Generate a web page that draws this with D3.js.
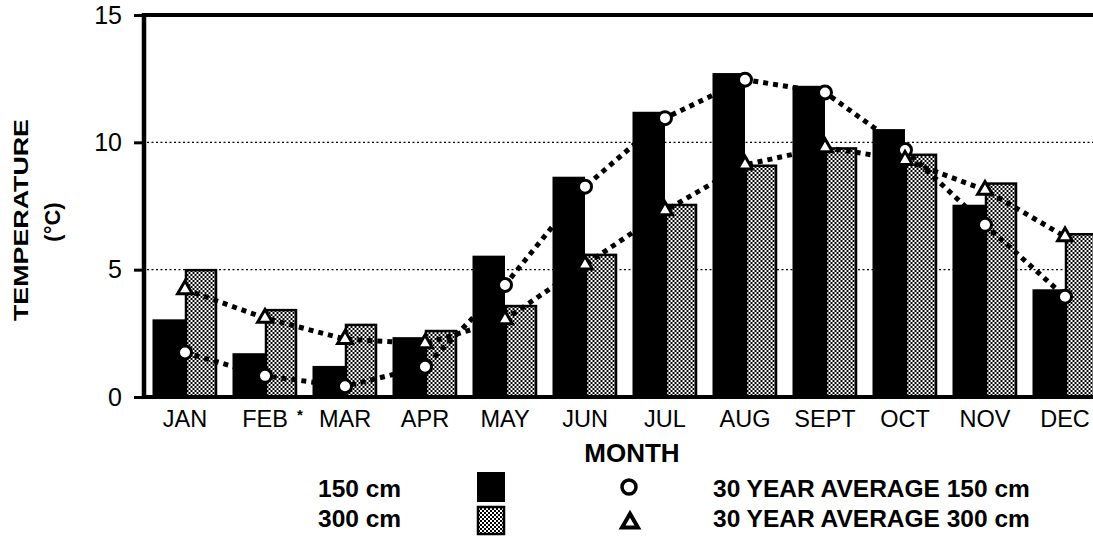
<!DOCTYPE html>
<html>
<head>
<meta charset="utf-8">
<script src="https://d3js.org/d3.v7.min.js"></script>
<style>
body { margin: 0; background: #fff; }
text { font-family: "Liberation Sans", Arial, sans-serif; fill: #000; }
</style>
</head>
<body>
<svg id="chart" width="1093" height="537"></svg>
<script>
// data
var months = ["JAN", "FEB", "MAR", "APR", "MAY", "JUN", "JUL", "AUG", "SEPT", "OCT", "NOV", "DEC"]
var temp150 = [3.05, 1.72, 1.22, 2.35, 5.55, 8.65, 11.2, 12.72, 12.22, 10.52, 7.55, 4.23]
var temp300 = [5.02, 3.45, 2.87, 2.63, 3.61, 5.62, 7.58, 9.12, 9.8, 9.55, 8.42, 6.43]
var avg150 = [1.75, 0.83, 0.42, 1.19, 4.4, 8.26, 10.95, 12.46, 11.96, 9.7, 6.76, 3.94]
var avg300 = [4.22, 3.1, 2.27, 2.1, 3.04, 5.19, 7.32, 9.12, 9.8, 9.3, 8.13, 6.3]
var yTicks = [0, 5, 10, 15]
var gridTicks = [5, 10]
var depths = ["150 cm", "300 cm"]
var avgLabels = ["30 YEAR AVERAGE 150 cm", "30 YEAR AVERAGE 300 cm"]

var svg = d3.select("#chart")
var width = 1093

// halftone fill for the 300 cm bars
var defs = svg.append("defs")
var pat = defs.append("pattern").attr("id", "dots")
    .attr("patternUnits", "userSpaceOnUse").attr("width", 4).attr("height", 4)
pat.append("rect").attr("width", 4).attr("height", 4).attr("fill", "#fff")
pat.append("rect").attr("x", 0).attr("y", 0).attr("width", 2).attr("height", 2).attr("fill", "#000")
pat.append("rect").attr("x", 2).attr("y", 2).attr("width", 2).attr("height", 2).attr("fill", "#000")

var x = d3.scaleBand().domain(months).range([145, 1105])
    .paddingInner(0.1875).paddingOuter(0.09375)
var x1 = d3.scaleBand().domain(depths).range([0, x.bandwidth()])
var y = d3.scaleLinear().domain([0, 15]).range([397, 15])

var rows = months.map(function(m, i) {
    return {m: m, v150: temp150[i], v300: temp300[i], a150: avg150[i], a300: avg300[i]}
})

// dotted grid lines
svg.selectAll(".grid").data(gridTicks).enter().append("line")
    .attr("x1", 147).attr("x2", width)
    .attr("y1", function(d) { return y(d) }).attr("y2", function(d) { return y(d) })
    .style("stroke", "#000").style("stroke-width", 1.2).style("stroke-dasharray", "2,2.5")

// bars
var g = svg.selectAll(".month").data(rows).enter().append("g")
    .attr("transform", function(d) { return "translate(" + x(d.m) + ",0)" })
g.append("rect")
    .attr("x", x1("150 cm")).attr("width", x1.bandwidth())
    .attr("y", function(d) { return y(d.v150) })
    .attr("height", function(d) { return y(0) - y(d.v150) })
    .attr("fill", "#000")
g.append("rect")
    .attr("x", x1("300 cm") + 1).attr("width", x1.bandwidth() - 2.5)
    .attr("y", function(d) { return y(d.v300) + 1 })
    .attr("height", function(d) { return y(0) - y(d.v300) - 1 })
    .attr("fill", "url(#dots)").attr("stroke", "#000").attr("stroke-width", 2.5)

// frame: left axis, top line, bottom axis
var yAxis = d3.axisLeft(y).tickValues(yTicks).tickSize(10).tickSizeOuter(0).tickPadding(10)
var ya = svg.append("g").attr("transform", "translate(144,0)").call(yAxis)
ya.select(".domain").remove()
ya.selectAll("line").style("stroke-width", 3)
ya.selectAll("text").style("font-size", "25px").attr("dx", "-2")
svg.append("line").attr("x1", 144).attr("x2", 144).attr("y1", y(15) - 2).attr("y2", y(0) + 2)
    .style("stroke", "#000").style("stroke-width", 4.5)
svg.append("line").attr("x1", 142).attr("x2", width).attr("y1", y(15)).attr("y2", y(15))
    .style("stroke", "#000").style("stroke-width", 4)
svg.append("line").attr("x1", 142).attr("x2", width).attr("y1", y(0)).attr("y2", y(0))
    .style("stroke", "#000").style("stroke-width", 4)

var xAxis = d3.axisBottom(x).tickSize(0).tickPadding(13)
var xa = svg.append("g").attr("transform", "translate(0," + y(0) + ")").call(xAxis)
xa.select(".domain").remove()
xa.selectAll("text").style("font-size", "23.5px")
svg.append("text").attr("x", x("FEB") + x.bandwidth() / 2 + 32).attr("y", 420)
    .style("font-size", "15px").style("font-weight", "bold").text("*")

// 30 year average lines
var cx = function(d) { return x(d.m) + x.bandwidth() / 2 }
var line150 = d3.line().x(cx).y(function(d) { return y(d.a150) })
var line300 = d3.line().x(cx).y(function(d) { return y(d.a300) })
;[line150, line300].forEach(function(l) {
    svg.append("path").datum(rows).attr("d", l)
        .attr("fill", "none").attr("stroke", "#000").attr("stroke-width", 5)
        .attr("stroke-dasharray", "5,5")
})
svg.selectAll(".c150").data(rows).enter().append("circle")
    .attr("cx", cx).attr("cy", function(d) { return y(d.a150) }).attr("r", 6.5)
    .attr("fill", "#fff").attr("stroke", "#000").attr("stroke-width", 3)
var tri = d3.symbol().type(d3.symbolTriangle).size(95)
svg.selectAll(".t300").data(rows).enter().append("path")
    .attr("d", tri)
    .attr("transform", function(d) { return "translate(" + cx(d) + "," + y(d.a300) + ")" })
    .attr("fill", "#fff").attr("stroke", "#000").attr("stroke-width", 3)

// axis titles
svg.append("text").attr("transform", "translate(28,220) rotate(-90)")
    .attr("text-anchor", "middle").style("font-size", "21px").style("font-weight", "bold")
    .attr("textLength", 202).attr("lengthAdjust", "spacingAndGlyphs")
    .text("TEMPERATURE")
svg.append("text").attr("transform", "translate(60,222) rotate(-90)")
    .attr("text-anchor", "middle").style("font-size", "22px").style("font-weight", "bold")
    .text("(°C)")
svg.append("text").attr("x", 632).attr("y", 462).attr("text-anchor", "middle")
    .style("font-size", "26px").style("font-weight", "bold").text("MONTH")

// legend
var ly = [497, 527]
svg.selectAll(".ld").data(depths).enter().append("text")
    .attr("x", 318).attr("y", function(d, i) { return ly[i] })
    .style("font-size", "24.5px").style("font-weight", "bold").text(function(d) { return d })
svg.append("rect").attr("x", 477).attr("y", 472).attr("width", 28).attr("height", 30).attr("fill", "#000")
svg.append("rect").attr("x", 478).attr("y", 507).attr("width", 26).attr("height", 27)
    .attr("fill", "url(#dots)").attr("stroke", "#000").attr("stroke-width", 2.5)
svg.append("circle").attr("cx", 629).attr("cy", 487).attr("r", 7)
    .attr("fill", "#fff").attr("stroke", "#000").attr("stroke-width", 3.5)
svg.append("path").attr("d", d3.symbol().type(d3.symbolTriangle).size(110))
    .attr("transform", "translate(630,523)")
    .attr("fill", "#fff").attr("stroke", "#000").attr("stroke-width", 4)
svg.selectAll(".la").data(avgLabels).enter().append("text")
    .attr("x", 713).attr("y", function(d, i) { return ly[i] })
    .style("font-size", "24.5px").style("font-weight", "bold").text(function(d) { return d })
</script>
</body>
</html>
